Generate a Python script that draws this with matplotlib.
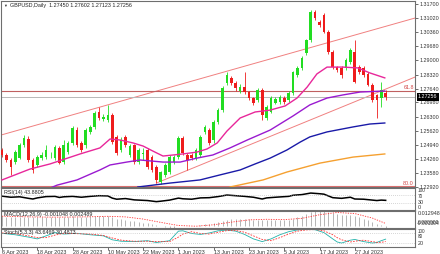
import matplotlib
matplotlib.use('Agg')
import matplotlib.pyplot as plt

plt.rcParams['font.family'] = ['Liberation Sans', 'DejaVu Sans']

# daily candles, 6 Apr 2023 .. 7 Aug 2023 (one entry per trading day)
opens = [1.2469, 1.2445, 1.2421, 1.2411, 1.2430, 1.2493, 1.2522, 1.2421, 1.2397, 1.2430,
         1.2435, 1.2443, 1.2430, 1.2479, 1.2411, 1.2459, 1.2503, 1.2565, 1.2503, 1.2493,
         1.2556, 1.2580, 1.2652, 1.2620, 1.2613, 1.2637, 1.2532, 1.2469, 1.2532, 1.2445,
         1.2493, 1.2411, 1.2452, 1.2469, 1.2435, 1.2387, 1.2315, 1.2349, 1.2363, 1.2411,
         1.2435, 1.2527, 1.2445, 1.2445, 1.2430, 1.2445, 1.2556, 1.2565, 1.2517, 1.2604,
         1.2661, 1.2791, 1.2816, 1.2791, 1.2753, 1.2772, 1.2748, 1.2719, 1.2710, 1.2758,
         1.2623, 1.2652, 1.2695, 1.2700, 1.2719, 1.2710, 1.2743, 1.2830, 1.2864, 1.2936,
         1.2998, 1.3133, 1.3085, 1.3119, 1.3037, 1.2941, 1.2868, 1.2864, 1.2864, 1.2893,
         1.2941, 1.2868, 1.2864, 1.2835, 1.2782, 1.2733, 1.2719, 1.2745]
highs = [1.2480, 1.2455, 1.2430, 1.2468, 1.2503, 1.2541, 1.2535, 1.2430, 1.2445, 1.2460,
         1.2495, 1.2460, 1.2493, 1.2490, 1.2517, 1.2512, 1.2585, 1.2580, 1.2512, 1.2575,
         1.2590, 1.2655, 1.2676, 1.2640, 1.2686, 1.2645, 1.2540, 1.2530, 1.2541, 1.2500,
         1.2500, 1.2480, 1.2478, 1.2478, 1.2445, 1.2395, 1.2370, 1.2405, 1.2445, 1.2445,
         1.2535, 1.2537, 1.2455, 1.2455, 1.2480, 1.2541, 1.2590, 1.2575, 1.2612, 1.2670,
         1.2775, 1.2845, 1.2825, 1.2800, 1.2785, 1.2844, 1.2755, 1.2725, 1.2765, 1.2765,
         1.2685, 1.2728, 1.2725, 1.2735, 1.2730, 1.2752, 1.2850, 1.2875, 1.2920, 1.3005,
         1.3143, 1.3143, 1.3095, 1.3128, 1.3045, 1.2950, 1.2875, 1.2872, 1.2910, 1.2960,
         1.2998, 1.2880, 1.2872, 1.2845, 1.2790, 1.2740, 1.2796, 1.2760]
lows = [1.2435, 1.2410, 1.2349, 1.2400, 1.2425, 1.2485, 1.2410, 1.2360, 1.2385, 1.2420,
        1.2425, 1.2430, 1.2420, 1.2400, 1.2400, 1.2450, 1.2495, 1.2485, 1.2460, 1.2480,
        1.2545, 1.2570, 1.2615, 1.2610, 1.2605, 1.2500, 1.2445, 1.2460, 1.2485, 1.2435,
        1.2400, 1.2400, 1.2420, 1.2380, 1.2365, 1.2310, 1.2305, 1.2340, 1.2355, 1.2400,
        1.2425, 1.2445, 1.2373, 1.2420, 1.2420, 1.2435, 1.2545, 1.2495, 1.2505, 1.2595,
        1.2650, 1.2780, 1.2780, 1.2755, 1.2745, 1.2740, 1.2710, 1.2685, 1.2700, 1.2613,
        1.2615, 1.2645, 1.2688, 1.2692, 1.2692, 1.2700, 1.2735, 1.2822, 1.2855, 1.2928,
        1.2990, 1.3095, 1.3060, 1.3030, 1.2932, 1.2860, 1.2845, 1.2816, 1.2855, 1.2885,
        1.2790, 1.2835, 1.2822, 1.2775, 1.2700, 1.2623, 1.2676, 1.2712]
closes = [1.2445, 1.2421, 1.2387, 1.2459, 1.2493, 1.2527, 1.2421, 1.2373, 1.2435, 1.2445,
          1.2469, 1.2447, 1.2483, 1.2406, 1.2493, 1.2503, 1.2575, 1.2493, 1.2469, 1.2565,
          1.2580, 1.2647, 1.2623, 1.2626, 1.2637, 1.2507, 1.2455, 1.2517, 1.2493, 1.2488,
          1.2411, 1.2469, 1.2457, 1.2387, 1.2373, 1.2325, 1.2363, 1.2397, 1.2435, 1.2435,
          1.2527, 1.2455, 1.2421, 1.2430, 1.2469, 1.2532, 1.2580, 1.2503, 1.2604, 1.2661,
          1.2767, 1.2830, 1.2791, 1.2767, 1.2772, 1.2748, 1.2719, 1.2695, 1.2758, 1.2637,
          1.2676, 1.2719, 1.2714, 1.2724, 1.2700, 1.2743, 1.2844, 1.2864, 1.2912, 1.2998,
          1.3133, 1.3104, 1.3071, 1.3037, 1.2941, 1.2868, 1.2854, 1.2830, 1.2902, 1.2950,
          1.2796, 1.2844, 1.2830, 1.2782, 1.2710, 1.2710, 1.2758, 1.2726]

date_labels = ['6 Apr 2023', '18 Apr 2023', '28 Apr 2023', '10 May 2023', '22 May 2023',
               '1 Jun 2023', '13 Jun 2023', '23 Jun 2023', '5 Jul 2023', '17 Jul 2023',
               '27 Jul 2023']
price_ticks = [1.31700, 1.31020, 1.30360, 1.29680, 1.29000, 1.28320, 1.27640,
               1.26980, 1.26300, 1.25620, 1.24940, 1.24260, 1.23580, 1.22920]

# moving averages (bar index, price)
ma_pink_x = [0, 6.3, 10.9, 17.7, 22.2, 24.5, 26.8, 29.7, 32.0, 34.2, 36.5, 38.8, 41.0, 44.2,
             46.5, 48.8, 51.0, 54.0, 57.4, 60.8, 64.2, 66.9, 69.2, 71.4, 73.7, 77.3, 80.7,
             83.4, 86.8]
ma_pink_y = [1.2325, 1.2377, 1.2402, 1.2450, 1.2479, 1.2522, 1.2517, 1.2503, 1.2488, 1.2464,
             1.2440, 1.2445, 1.2450, 1.2459, 1.2474, 1.2503, 1.2560, 1.2623, 1.2652, 1.2661,
             1.2681, 1.2719, 1.2772, 1.2835, 1.2868, 1.2868, 1.2864, 1.2840, 1.2816]
ma_purple_x = [10.9, 12.5, 17.0, 22.2, 24.5, 28.3, 31.3, 36.5, 40.4, 44.2, 47.8, 51.7, 55.6,
               60.8, 66.0, 69.8, 73.7, 77.3, 81.2, 86.8]
ma_purple_y = [1.2286, 1.2300, 1.2325, 1.2373, 1.2397, 1.2411, 1.2421, 1.2411, 1.2411, 1.2430,
               1.2445, 1.2479, 1.2517, 1.2565, 1.2633, 1.2686, 1.2719, 1.2734, 1.2748, 1.2753]
ma_blue_x = [30.8, 38.1, 44.9, 49.4, 54.0, 57.4, 60.8, 64.6, 67.6, 69.8, 73.7, 79.6, 83.4, 86.8]
ma_blue_y = [1.2291, 1.2310, 1.2325, 1.2349, 1.2373, 1.2402, 1.2430, 1.2469, 1.2507, 1.2532,
             1.2556, 1.2580, 1.2594, 1.2599]
ma_orange_x = [51.7, 59.2, 64.6, 72.1, 79.6, 86.8]
ma_orange_y = [1.2291, 1.2325, 1.2363, 1.2406, 1.2435, 1.2450]

# channel lines and levels
upper_chan_x = [-0.23, 93.65]
upper_chan_y = [1.2541, 1.3104]
lower_chan_x = [35, 93.65]
lower_chan_y = [1.2310, 1.2820]
fibo_618 = 1.2753
fibo_800 = 1.2296
last_price = 1.27256

rsi_x = [0, 2, 4, 6, 7, 8, 10, 12, 13, 14, 16, 18, 20, 22, 24, 25, 26, 28, 30, 33, 35, 36, 38,
         40, 41, 43, 45, 47, 49, 51, 53, 55, 57, 59, 60, 62, 65, 66, 68, 70, 72, 73, 74, 75,
         77, 79, 80, 82, 84, 85, 86, 87]
rsi_y = [63, 58, 60, 53, 50, 55, 61, 62, 57, 60, 62, 58, 62, 65, 64, 54, 49, 52, 46, 43, 38, 40,
         45, 54, 51, 49, 55, 56, 61, 68, 65, 62, 58, 50, 55, 58, 62, 67, 70, 77, 74, 72, 64, 56,
         53, 58, 50, 49, 45, 43, 45, 43.88]

macd_hist = [0.0085, 0.0083, 0.0080, 0.0079, 0.0080, 0.0081, 0.0082, 0.0078, 0.0076, 0.0075,
             0.0076, 0.0076, 0.0078, 0.0076, 0.0078, 0.0080, 0.0084, 0.0083, 0.0081, 0.0083,
             0.0085, 0.0089, 0.0090, 0.0090, 0.0088, 0.0078, 0.0066, 0.0060, 0.0054, 0.0049,
             0.0042, 0.0038, 0.0033, 0.0026, 0.0018, 0.0008, 0.0002, -0.0008, -0.0013, -0.0010,
             0.0000, 0.0002, 0.0002, 0.0003, 0.0006, 0.0012, 0.0020, 0.0022, 0.0028, 0.0035,
             0.0048, 0.0058, 0.0062, 0.0063, 0.0064, 0.0064, 0.0062, 0.0058, 0.0058, 0.0052,
             0.0050, 0.0051, 0.0052, 0.0054, 0.0054, 0.0057, 0.0066, 0.0075, 0.0086, 0.0102,
             0.0120, 0.0128, 0.0129, 0.0129, 0.0124, 0.0116, 0.0108, 0.0100, 0.0097, 0.0098,
             0.0088, 0.0078, 0.0066, 0.0052, 0.0034, 0.0018, 0.0008, -0.001048]
macd_sig_x = [0, 4, 8, 12, 16, 20, 24, 28, 32, 36, 40, 44, 48, 52, 56, 60, 64, 68, 72, 76, 80,
              84, 87]
macd_sig_y = [0.0086, 0.0082, 0.0079, 0.0078, 0.0079, 0.0081, 0.0085, 0.0080, 0.0062, 0.0034,
              0.0008, 0.0002, 0.0014, 0.0036, 0.0055, 0.0060, 0.0057, 0.0068, 0.0098, 0.0117,
              0.0108, 0.0070, 0.002489]

stoch_x = [0, 3, 6, 8, 10, 12, 14, 17, 20, 23, 25, 27, 30, 33, 35, 38, 40, 41, 43, 45, 47, 49,
           51, 53, 55, 57, 59, 61, 63, 65, 67, 69, 71, 73, 75, 76, 77, 79, 80, 82, 84, 85, 86, 87]
stoch_main = [76, 68, 55, 45, 62, 80, 72, 76, 68, 62, 40, 32, 30, 35, 25, 35, 88, 90, 75, 70, 78,
              90, 94, 88, 70, 45, 30, 45, 68, 85, 95, 98, 96, 80, 45, 28, 22, 38, 42, 30, 22, 25,
              35, 43.6469]
stoch_sig = [78, 74, 62, 52, 52, 66, 76, 74, 72, 64, 50, 38, 32, 32, 30, 30, 55, 72, 85, 75, 72,
             82, 91, 92, 82, 62, 42, 35, 52, 72, 88, 95, 97, 90, 68, 52, 40, 28, 32, 38, 30, 26,
             26, 30.4873]

fig = plt.figure(figsize=(4.4, 2.54), dpi=100)
W, H = 440.0, 254.0
ax = fig.add_axes([1 / W, (H - 187) / H, 414 / W, 186 / H])
ax_rsi = fig.add_axes([1 / W, (H - 210) / H, 414 / W, 22 / H])
ax_macd = fig.add_axes([1 / W, (H - 228) / H, 414 / W, 17 / H])
ax_st = fig.add_axes([1 / W, (H - 247) / H, 414 / W, 18 / H])

fs = 3.9
bars = list(range(len(closes)))
for a in (ax, ax_rsi, ax_macd, ax_st):
    a.set_xlim(-0.23, 93.65)
    for s in a.spines.values():
        s.set_color('#6e6e6e')
        s.set_linewidth(0.8)
    a.set_xticks([])
    a.yaxis.tick_right()
    a.tick_params(axis='y', length=2, width=0.5, pad=1, labelsize=fs, colors='#333333')

# main chart
ax.plot(upper_chan_x, upper_chan_y, color='#f08080', lw=0.7, zorder=1)
ax.plot(lower_chan_x, lower_chan_y, color='#f08080', lw=0.7, zorder=1)
ax.axhline(fibo_618, color='#c06060', lw=0.8, zorder=1)
ax.axhline(last_price, color='#b8b8b8', lw=0.7, zorder=1)
ax.axhline(fibo_800, color='#e07070', lw=0.8, zorder=1)

for i in bars:
    o, h, l, c = opens[i], highs[i], lows[i], closes[i]
    col = '#22dd22' if c >= o else '#ee1c1c'
    ax.vlines(i, l, h, color=col, lw=0.6, zorder=2)
    ax.bar(i, max(abs(c - o), 0.00025), bottom=min(o, c), width=0.6, color=col, zorder=3)

ax.plot(ma_orange_x, ma_orange_y, color='#f5a030', lw=1.0, zorder=4)
ax.plot(ma_blue_x, ma_blue_y, color='#1a1aa8', lw=1.0, zorder=4)
ax.plot(ma_purple_x, ma_purple_y, color='#9a1ad0', lw=1.0, zorder=4)
ax.plot(ma_pink_x, ma_pink_y, color='#e8279a', lw=1.0, zorder=4)

ax.set_ylim(1.2291, 1.3186)
ax.set_yticks(price_ticks)
ax.set_yticklabels(['%.5f' % p for p in price_ticks])
ytr = ax.get_yaxis_transform()
ax.text(1.007, last_price, '%.5f' % last_price, transform=ytr, fontsize=fs, color='white',
        va='center', ha='left', bbox=dict(boxstyle='square,pad=0.25', fc='black', ec='none'))
ax.text(0.997, fibo_618 + 0.0004, '61.8', transform=ytr, fontsize=fs, color='#d04040',
        ha='right', va='bottom')
ax.text(0.997, fibo_800 + 0.0002, '80.0', transform=ytr, fontsize=fs, color='#d04040',
        ha='right', va='bottom')
ax.text(0.006, 0.985, '\u25bc', transform=ax.transAxes, fontsize=2.8, color='#333333',
        va='top', ha='left')
ax.text(0.022, 0.99, 'GBPUSD,Daily  1.27450 1.27602 1.27123 1.27256', transform=ax.transAxes,
        fontsize=fs, color='#222222', va='top', ha='left')

# RSI
ax_rsi.plot(rsi_x, rsi_y, color='black', lw=1.1)
ax_rsi.set_ylim(0, 100)
ax_rsi.set_yticks([])
for lv in (70, 30):
    ax_rsi.axhline(lv, color='#b0b0b0', lw=0.5, ls=(0, (1, 2)))
rtr = ax_rsi.get_yaxis_transform()
ax_rsi.text(1.007, 98, '100', transform=rtr, fontsize=3.4, va='top', color='#333333')
ax_rsi.text(1.007, 74, '70', transform=rtr, fontsize=3.4, va='top', color='#333333')
ax_rsi.text(1.007, 32, '30', transform=rtr, fontsize=fs, va='center', color='#333333')
ax_rsi.text(1.007, 0, '0', transform=rtr, fontsize=fs, va='bottom', color='#333333')
ax_rsi.text(0.008, 0.93, 'RSI(14) 43.8805', transform=ax_rsi.transAxes, fontsize=fs,
            va='top', color='#222222')

# MACD
ax_macd.vlines(bars, 0, macd_hist, color='#a8a8a8', lw=0.6)
ax_macd.plot(macd_sig_x, macd_sig_y, color='#ff3030', lw=0.6, ls=(0, (1.5, 1.5)))
ax_macd.set_ylim(-0.001304, 0.012948)
ax_macd.set_yticks([])
mtr = ax_macd.get_yaxis_transform()
ax_macd.text(1.007, 0.012948, '0.012948', transform=mtr, fontsize=fs, va='top', color='#333333')
ax_macd.text(1.007, 0.0012, '0.000000', transform=mtr, fontsize=3.6, va='bottom', color='#333333')
ax_macd.text(1.004, 0.0005, '-0.001304', transform=mtr, fontsize=3.6, va='bottom', color='#333333')
ax_macd.text(0.008, 0.93, 'MACD(12,26,9) -0.001048 0.002489', transform=ax_macd.transAxes,
             fontsize=fs, va='top', color='#222222')

# Stochastic
ax_st.plot(stoch_x, stoch_main, color='#20b2aa', lw=0.6)
ax_st.plot(stoch_x, stoch_sig, color='#ff3030', lw=0.6, ls=(0, (2, 1.5)))
ax_st.set_ylim(0, 100)
ax_st.set_yticks([])
for lv in (80, 20):
    ax_st.axhline(lv, color='#b0b0b0', lw=0.5, ls=(0, (1, 2)))
str_ = ax_st.get_yaxis_transform()
ax_st.text(1.007, 100, '100', transform=str_, fontsize=3.3, va='top', color='#333333')
ax_st.text(1.007, 74, '80', transform=str_, fontsize=3.3, va='top', color='#333333')
ax_st.text(1.007, 22, '20', transform=str_, fontsize=fs, va='center', color='#333333')
ax_st.text(0.008, 0.93, 'Stoch(5,3,3) 43.6469 30.4873', transform=ax_st.transAxes,
           fontsize=fs, va='top', color='#222222')

tick_pos = bars[::8]
ax_st.set_xticks(tick_pos)
ax_st.set_xticklabels(date_labels)
ax_st.tick_params(axis='x', length=2, width=0.5, pad=0.5, labelsize=fs, colors='#333333')
for lab in ax_st.get_xticklabels():
    lab.set_horizontalalignment('left')

fig.savefig('out.png', dpi=100, facecolor='white')
